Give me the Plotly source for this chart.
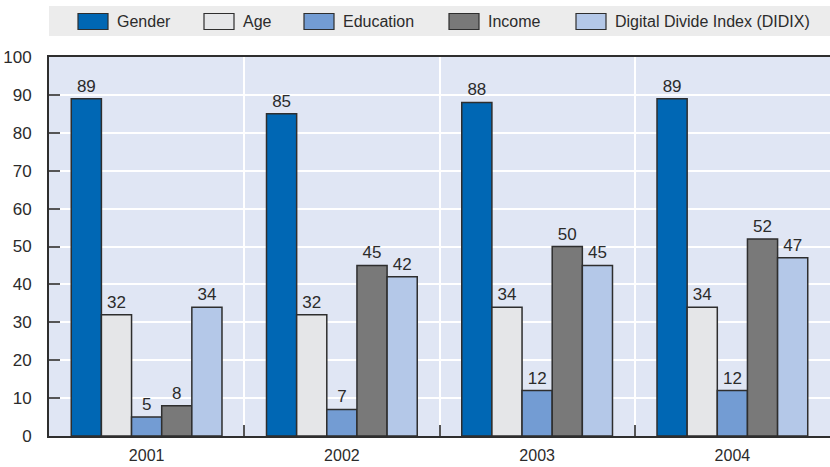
import plotly.graph_objects as go

years = ["2001", "2002", "2003", "2004"]
series_names = ["Gender", "Age", "Education", "Income", "Digital Divide Index (DIDIX)"]
gender = [89, 85, 88, 89]
age = [32, 32, 34, 34]
education = [5, 7, 12, 12]
income = [8, 45, 50, 52]
didix = [34, 42, 45, 47]
colors = ["#0067b4", "#e5e6e8", "#739cd3", "#797979", "#b4c8e8"]

values = [gender, age, education, income, didix]
FONT = "Liberation Sans Narrow, Arial Narrow, Liberation Sans, Arial, sans-serif"
TXT = "#2b2b2b"
FS = 16

fig = go.Figure()
for name, vals, col in zip(series_names, values, colors):
    fig.add_trace(go.Bar(
        x=years, y=vals, name=name,
        marker=dict(color=col, line=dict(color="#2e2e2e", width=1.5)),
        text=[str(v) for v in vals], textposition="outside",
        textfont=dict(family=FONT, size=FS + 1, color=TXT),
        cliponaxis=False, showlegend=False,
    ))

# plot area geometry (pixels) for paper coordinate conversion
L, R, T, B = 49, 830, 57, 436
def px(x):
    return (x - L) / (R - L)
def py(y):
    return (B - y) / (B - T)

shapes = [dict(type="rect", xref="paper", yref="paper",
               x0=px(49), x1=px(830), y0=py(36), y1=py(6),
               fillcolor="#ececec", line=dict(width=0), layer="below")]
annotations = []
sw_x = [78, 204, 304, 449, 576]
for name, col, sx in zip(series_names, colors, sw_x):
    shapes.append(dict(type="rect", xref="paper", yref="paper",
                       x0=px(sx), x1=px(sx + 30), y0=py(29.5), y1=py(13.5),
                       fillcolor=col, line=dict(color="#2e2e2e", width=1.2)))
    annotations.append(dict(xref="paper", yref="paper", x=px(sx + 37), y=py(21.5),
                            text=name, showarrow=False, xanchor="left", yanchor="middle",
                            font=dict(family=FONT, size=FS, color=TXT)))

fig.update_layout(
    width=830, height=467,
    margin=dict(l=L, r=830 - R, t=T, b=467 - B),
    paper_bgcolor="white", plot_bgcolor="#e0e6f4",
    barmode="group", bargap=0.228, bargroupgap=0,
    font=dict(family=FONT, size=FS, color=TXT),
    shapes=shapes, annotations=annotations,
    xaxis=dict(type="category", tickson="boundaries", ticks="inside", ticklen=11,
               tickwidth=2, tickcolor="#555555", showgrid=True, gridcolor="white",
               gridwidth=2, showline=True, linecolor="#2e2e2e", linewidth=2,
               mirror=True, ticklabelstandoff=4,
               tickfont=dict(family=FONT, size=FS, color=TXT)),
    yaxis=dict(range=[0, 100], dtick=10, ticks="inside", ticklen=11, tickwidth=2,
               tickcolor="#555555", showgrid=True, gridcolor="white", gridwidth=2,
               showline=True, linecolor="#2e2e2e", linewidth=2, zeroline=False,
               ticklabelstandoff=12, tickfont=dict(family=FONT, size=FS + 1, color=TXT)),
)
fig.write_html("out.html")
